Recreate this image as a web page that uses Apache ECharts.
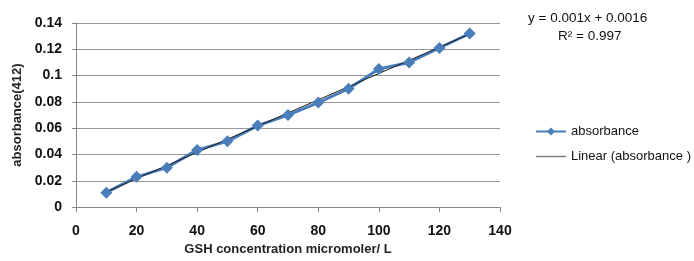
<!DOCTYPE html>
<html>
<head>
<meta charset="utf-8">
<script src="https://cdn.jsdelivr.net/npm/echarts@6/dist/echarts.min.js"></script>
<style>
  html, body { margin: 0; padding: 0; background: #fff; }
  #main { width: 694px; height: 261px; }
</style>
</head>
<body>
<div id="main"></div>
<script>
// concentration (micromol/L) and measured absorbance
var conc = [10, 20, 30, 40, 50, 60, 70, 80, 90, 100, 110, 120, 130];
var absorbance = [0.011, 0.023, 0.030, 0.0435, 0.050, 0.062, 0.070, 0.0795, 0.090, 0.105, 0.110, 0.121, 0.132];
// linear trend endpoints
var trendX = [10, 130];
var trendY = [0.0116, 0.1316];
var equationText = 'y = 0.001x + 0.0016';
var r2Text = 'R² = 0.997';

var font = '"Liberation Sans", Arial, sans-serif';

var mainData = conc.map(function (x, i) { return [x, absorbance[i]]; });
var trendData = trendX.map(function (x, i) { return [x, trendY[i]]; });

// thin horizontal line as legend icon (outer moveTo points keep the box 30x10)
var lineIcon = 'path://M0,0 M0,4.3 L30,4.3 L30,5.7 L0,5.7 Z M30,10';

var myChart = echarts.init(document.getElementById('main'));
var option = {
  animation: false,
  grid: { left: 76, right: 194, top: 23, bottom: 53 },
  xAxis: {
    type: 'value',
    min: 0, max: 140, interval: 20,
    name: 'GSH concentration micromoler/ L',
    nameLocation: 'middle',
    nameGap: 35,
    nameTextStyle: { fontFamily: font, fontWeight: 'bold', fontSize: 13, color: '#222' },
    axisLine: { show: true, lineStyle: { color: '#888' } },
    axisTick: { show: true, length: 5, lineStyle: { color: '#888' } },
    axisLabel: { fontFamily: font, fontWeight: 'bold', fontSize: 14, color: '#111', margin: 17 },
    splitLine: { show: false }
  },
  yAxis: {
    type: 'value',
    min: 0, max: 0.14, interval: 0.02,
    name: 'absorbance(412)',
    nameLocation: 'middle',
    nameGap: 52,
    nameTextStyle: { fontFamily: font, fontWeight: 'bold', fontSize: 13, color: '#222' },
    axisLine: { show: true, lineStyle: { color: '#888' } },
    axisTick: { show: true, length: 4, lineStyle: { color: '#888' } },
    axisLabel: { fontFamily: font, fontWeight: 'bold', fontSize: 14, color: '#111', margin: 14 },
    splitLine: { show: true, lineStyle: { color: '#999' } }
  },
  legend: {
    orient: 'vertical',
    left: 535,
    top: 125,
    padding: 0,
    itemGap: 12,
    itemWidth: 30,
    itemHeight: 10,
    textStyle: { fontFamily: font, fontSize: 13, color: '#111' },
    data: [
      { name: 'absorbance' },
      { name: 'Linear (absorbance )', icon: lineIcon, itemStyle: { color: '#777' } }
    ]
  },
  graphic: [
    { type: 'text', left: 528, top: 11, style: { text: equationText, font: '13.5px ' + font, fill: '#111' } },
    { type: 'text', left: 558, top: 29, style: { text: r2Text, font: '13.5px ' + font, fill: '#111' } }
  ],
  series: [
    {
      name: 'absorbance',
      type: 'line',
      data: mainData,
      symbol: 'diamond',
      symbolSize: 12,
      itemStyle: { color: '#4a7ebb' },
      lineStyle: { color: '#4a7ebb', width: 3 }
    },
    {
      name: 'Linear (absorbance )',
      type: 'line',
      data: trendData,
      symbol: 'none',
      itemStyle: { color: '#555' },
      lineStyle: { color: '#1a1a1a', width: 1 },
      z: 3
    }
  ]
};
myChart.setOption(option);
window.addEventListener('resize', myChart.resize);
</script>
</body>
</html>
